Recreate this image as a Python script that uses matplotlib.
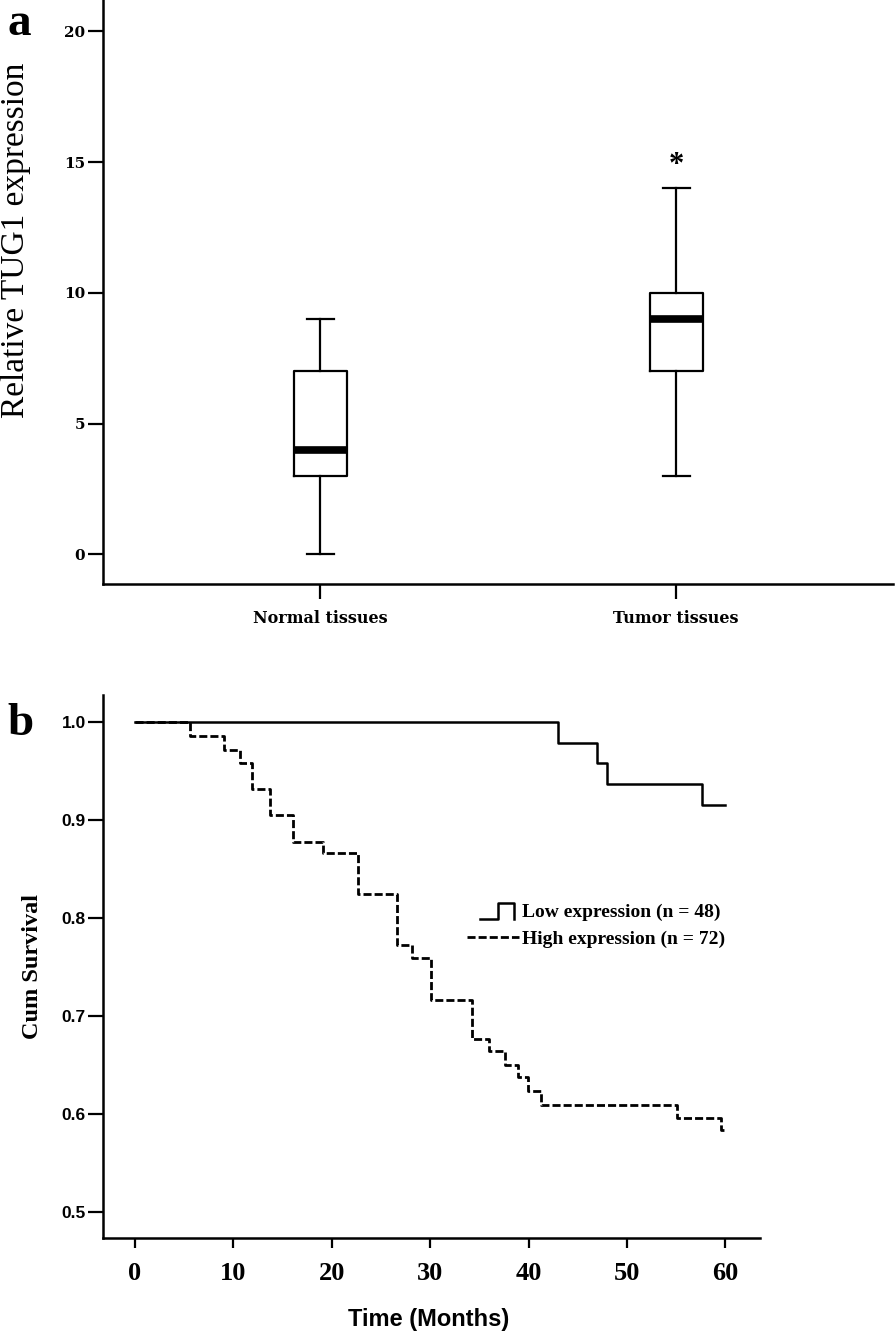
import numpy as np
import matplotlib
matplotlib.use("Agg")
from matplotlib import pyplot as plt
from matplotlib.lines import Line2D
from matplotlib.legend_handler import HandlerBase

# ---- panel a : box plot data ----
groups = ["Normal tissues", "Tumor tissues"]
whis_low = [0.0, 3.0]
q1 = [3.0, 7.0]
median = [4.0, 9.0]
q3 = [7.0, 10.0]
whis_high = [9.0, 14.0]
star_y = 15.2

# ---- panel b : Kaplan-Meier curves ----
low_t = [0, 43.0, 47.0, 48.0, 57.6, 60]
low_s = [1.0, 0.979, 0.958, 0.937, 0.916, 0.916]
high_t = [0, 5.6, 9.0, 10.7, 11.9, 13.7, 16.1, 19.1, 22.7, 26.6, 28.2, 30.1,
          34.2, 36.0, 37.6, 38.9, 39.9, 41.3, 55.1, 59.6, 60]
high_s = [1.0, 0.986, 0.972, 0.958, 0.932, 0.905, 0.878, 0.866, 0.825, 0.772,
          0.759, 0.716, 0.676, 0.664, 0.650, 0.637, 0.623, 0.609, 0.596, 0.583, 0.583]
low_label = "Low expression (n = 48)"
high_label = "High expression (n = 72)"

SERIF = "Liberation Serif"
SANS = "Liberation Sans"
SLAB = "DejaVu Serif"


class StepHandler(HandlerBase):
    # legend glyph like the SPSS "_|‾|" step symbol
    def create_artists(self, legend, orig_handle, xdescent, ydescent,
                       width, height, fontsize, trans):
        x0 = -xdescent
        w = width
        y0 = -ydescent - 0.15 * height
        y1 = -ydescent + 1.05 * height
        xs = [x0 + 0.25 * w, x0 + 0.6 * w, x0 + 0.6 * w, x0 + 0.9 * w, x0 + 0.9 * w]
        ys = [y0, y0, y1, y1, y0]
        ln = Line2D(xs, ys, color="black", lw=1.8, transform=trans)
        return [ln]


fig = plt.figure(figsize=(8.96, 13.36), dpi=100)

# ================= panel a =================
ax1 = fig.add_axes([0.115, 0.563, 0.882, 0.437])
stats = []
for i in range(len(groups)):
    stats.append(dict(whislo=whis_low[i], q1=q1[i], med=median[i],
                      q3=q3[i], whishi=whis_high[i], fliers=[]))
ax1.bxp(stats, positions=[1, 2], widths=0.148, capwidths=0.075,
        showfliers=False,
        boxprops=dict(color="black", lw=1.6),
        whiskerprops=dict(color="black", lw=1.6),
        capprops=dict(color="black", lw=1.6),
        medianprops=dict(color="black", lw=5.5, solid_capstyle="butt"))
ax1.annotate("*", (2, star_y), xytext=(0, -6), textcoords="offset points",
             ha="center", va="center", fontsize=22, fontweight="bold", family=SERIF)

ax1.set_xlim(0.39, 2.61)
ax1.set_ylim(-1.13, 21.2)
ax1.set_xticks([1, 2])
ax1.set_xticklabels(groups, family=SLAB, fontweight="bold", fontsize=11.5)
ax1.set_yticks([0, 5, 10, 15, 20])
ax1.set_yticklabels(["0", "5", "10", "15", "20"], family=SLAB,
                    fontweight="bold", fontsize=11)
ax1.tick_params(axis="y", length=11, width=1.6, pad=2)
ax1.tick_params(axis="x", length=11, width=1.6, pad=8)
for s in ["top", "right"]:
    ax1.spines[s].set_visible(False)
for s in ["left", "bottom"]:
    ax1.spines[s].set_linewidth(1.8)
ax1.set_ylabel("Relative TUG1 expression", family=SERIF, fontsize=24, va="center")
ax1.yaxis.set_label_coords(-0.111, 0.588)

# ================= panel b =================
ax2 = fig.add_axes([0.115, 0.0734, 0.733, 0.4064])
ax2.step(low_t, low_s, where="post", color="black", lw=1.8, label=low_label)
ax2.step(high_t, high_s, where="post", color="black", lw=2.0,
         linestyle=(0, (2.9, 1.1)), label=high_label)

ax2.set_xlim(-3.25, 63.5)
ax2.set_ylim(0.473, 1.028)
ax2.set_xticks([0, 10, 20, 30, 40, 50, 60])
ax2.set_xticklabels(["0", "10", "20", "30", "40", "50", "60"], family=SERIF,
                    fontweight="bold", fontsize=19)
ax2.set_yticks([0.5, 0.6, 0.7, 0.8, 0.9, 1.0])
ax2.set_yticklabels(["0.5", "0.6", "0.7", "0.8", "0.9", "1.0"], family=SANS,
                    fontweight="bold", fontsize=12.5)
ax2.tick_params(axis="y", length=10.5, width=1.6, pad=2)
ax2.tick_params(axis="x", length=7, width=1.6, pad=10)
for s in ["top", "right"]:
    ax2.spines[s].set_visible(False)
for s in ["left", "bottom"]:
    ax2.spines[s].set_linewidth(1.8)
ax2.set_ylabel("Cum Survival", family=SERIF, fontweight="bold", fontsize=17.5, va="center")
ax2.yaxis.set_label_coords(-0.108, 0.5)
ax2.set_xlabel("Time (Months)", family=SANS, fontweight="bold", fontsize=17, va="center")
ax2.xaxis.set_label_coords(0.495, -0.151)

handles, labels = ax2.get_legend_handles_labels()
ax2.legend(handles, labels, handler_map={handles[0]: StepHandler()},
           loc="center left", bbox_to_anchor=(0.554, 0.575), frameon=False,
           prop=dict(family=SERIF, weight="bold", size=14),
           handlelength=2.7, handletextpad=0.15, borderpad=0, borderaxespad=0,
           labelspacing=0.5)

# panel letters
fig.text(0.008, 0.974, "a", family=SERIF, fontweight="bold", fontsize=34)
fig.text(0.008, 0.450, "b", family=SERIF, fontweight="bold", fontsize=34)

fig.savefig("out.png", dpi=100)
